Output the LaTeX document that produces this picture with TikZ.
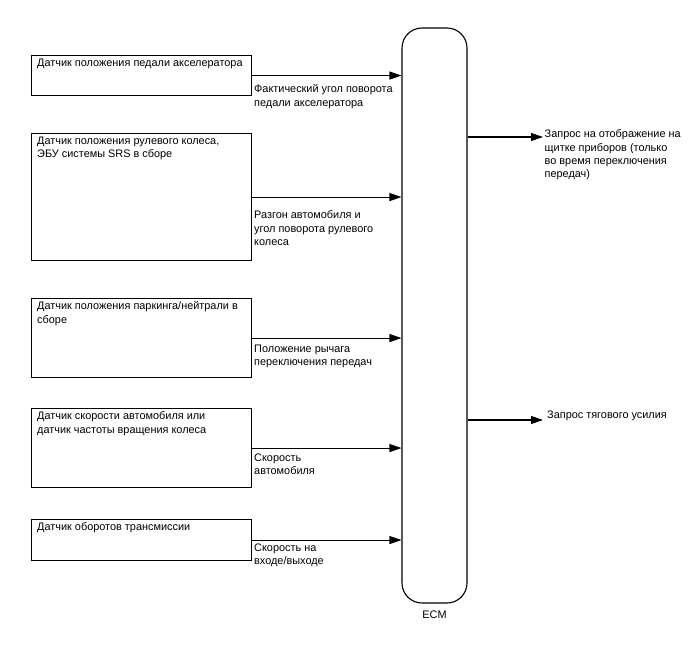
\documentclass[tikz,border=0pt]{standalone}
\usepackage{fontspec}
\setmainfont{Liberation Sans}
\usetikzlibrary{arrows.meta}
\tikzset{
  sensor/.style={draw, line width=1.1pt, anchor=north west, minimum width=220pt, inner sep=0pt},
  boxtext/.style={anchor=north west, inner sep=0pt, xshift=6pt, yshift=-3.5pt, align=left, font=\fontsize{10.9}{13.4}\selectfont},
  sigtext/.style={anchor=north west, inner sep=0pt, align=left, font=\fontsize{10.9}{13.4}\selectfont},
  signal/.style={-{Triangle[length=12pt,width=8pt]}, line width=1.1pt}
}
\begin{document}
\begin{tikzpicture}[x=1pt, y=-1pt]
\useasboundingbox (0,0) rectangle (688,658);

\node[draw, line width=1.1pt, rounded corners=20pt, minimum width=65pt, minimum height=575pt, inner sep=0pt,
  label={[sigtext, anchor=north, label distance=7pt]south:ECM}] (ecm) at (434.5,315.5) {};

\node[sensor, minimum height=40pt, label={[boxtext]north west:Датчик положения педали акселератора}] (accel) at (31,55) {};
\node[sensor, minimum height=127pt, label={[boxtext]north west:Датчик положения рулевого колеса,\\ЭБУ системы SRS в сборе}] (steer) at (31,133) {};
\node[sensor, minimum height=79pt, label={[boxtext]north west:Датчик положения паркинга/нейтрали в\\сборе}] (park) at (31,298) {};
\node[sensor, minimum height=79pt, label={[boxtext]north west:Датчик скорости автомобиля или\\датчик частоты вращения колеса}] (speed) at (31,408) {};
\node[sensor, minimum height=41pt, label={[boxtext]north west:Датчик оборотов трансмиссии}] (trans) at (31,519) {};

\node[sigtext] (accelsig) at (254,84.5) {Фактический угол поворота\\педали акселератора};
\node[sigtext] (steersig) at (254,210.5) {Разгон автомобиля и\\угол поворота рулевого\\колеса};
\node[sigtext] (parksig) at (254,344.5) {Положение рычага\\переключения передач};
\node[sigtext] (speedsig) at (254,453.5) {Скорость\\автомобиля};
\node[sigtext] (transsig) at (254,543.5) {Скорость на\\входе/выходе};

\coordinate (dash) at (543,137);
\coordinate (torque) at (543,420);
\node[sigtext] (dashsig) at (544.5,129.5) {Запрос на отображение на\\щитке приборов (только\\во время переключения\\передач)};
\node[sigtext] (torquesig) at (547,411) {Запрос тягового усилия};

\draw[signal] (accel.east) -- (accel.east -| ecm.west);
\draw[signal] (steer.east) -- (steer.east -| ecm.west);
\draw[signal] (park.east) -- (park.east -| ecm.west);
\draw[signal] (speed.east) -- (speed.east -| ecm.west);
\draw[signal] (trans.east) -- (trans.east -| ecm.west);
\draw[signal] (dash -| ecm.east) -- (dash);
\draw[signal] (torque -| ecm.east) -- (torque);
\end{tikzpicture}
\end{document}
